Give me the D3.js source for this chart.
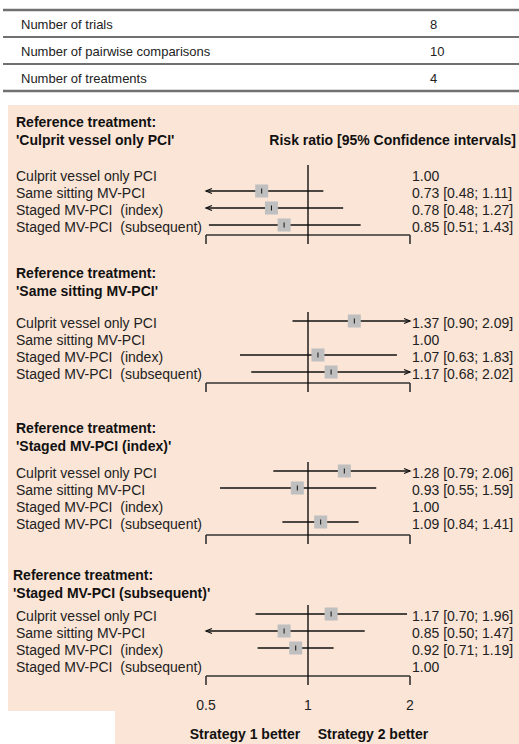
<!DOCTYPE html>
<html>
<head>
<meta charset="utf-8">
<script src="https://cdn.jsdelivr.net/npm/d3@7"></script>
<style>
	body { margin: 0; background: #fff; }
	svg { display: block; font-family: Arial, "Liberation Sans", sans-serif; }
	text { white-space: pre; }
</style>
</head>
<body>
<svg width="519" height="744"></svg>
<script>
// summary table
const tableLabels = ['Number of trials', 'Number of pairwise comparisons', 'Number of treatments'];
const tableValues = [8, 10, 4];

// forest plot data, one row per reference treatment
const treatments = ['Culprit vessel only PCI', 'Same sitting MV-PCI', 'Staged MV-PCI  (index)', 'Staged MV-PCI  (subsequent)'];
const references = ['Culprit vessel only PCI', 'Same sitting MV-PCI', 'Staged MV-PCI (index)', 'Staged MV-PCI (subsequent)'];
const riskRatio = [
	[1.00, 0.73, 0.78, 0.85],
	[1.37, 1.00, 1.07, 1.17],
	[1.28, 0.93, 1.00, 1.09],
	[1.17, 0.85, 0.92, 1.00]
];
const lowerCI = [
	[null, 0.48, 0.48, 0.51],
	[0.90, null, 0.63, 0.68],
	[0.79, 0.55, null, 0.84],
	[0.70, 0.50, 0.71, null]
];
const upperCI = [
	[null, 1.11, 1.27, 1.43],
	[2.09, null, 1.83, 2.02],
	[2.06, 1.59, null, 1.41],
	[1.96, 1.47, 1.19, null]
];
const axisTicks = [0.5, 1, 2];

// layout
const titleY = [122, 273, 428, 575];
const titleX = [16, 16, 16, 13];
const firstRowY = [176, 323, 473, 616];
const axisY = [235, 383, 535, 676];
const rowStep = 17;
const labelX = 16;
const valueX = 412;
const sq = 13;

const svg = d3.select('svg');
const x = d3.scaleLog().domain([0.5, 2]).range([206, 410]);

// table
const tRows = d3.scaleBand().domain(d3.range(tableLabels.length)).range([10, 91]);
svg.selectAll('.tline')
	.data(d3.range(tableLabels.length + 1))
	.enter()
	.append('line')
	.attr('x1', 3).attr('x2', 519)
	.attr('y1', (i) => (i < tableLabels.length ? tRows(i) : 91))
	.attr('y2', (i) => (i < tableLabels.length ? tRows(i) : 91))
	.attr('stroke', '#707070')
	.attr('stroke-width', (i) => (i === 0 || i === tableLabels.length ? 2.5 : 2));

tableLabels.forEach((t, i) => {
	const cy = tRows(i) + tRows.bandwidth() / 2 + 1;
	svg.append('text').attr('x', 21).attr('y', cy).attr('dy', '0.35em')
		.attr('font-size', 13).attr('fill', '#222').text(t);
	svg.append('text').attr('x', 430).attr('y', cy).attr('dy', '0.35em')
		.attr('font-size', 13).attr('fill', '#222').text(tableValues[i]);
});

// peach background
svg.append('path')
	.attr('d', 'M8,105H519V744H115V711H8Z')
	.attr('fill', '#fbe5d6');

svg.append('text')
	.attr('x', 516).attr('y', 140).attr('dy', '0.35em')
	.attr('text-anchor', 'end')
	.attr('font-size', 14).attr('font-weight', 'bold').attr('fill', '#111')
	.text('Risk ratio [95% Confidence intervals]');

references.forEach((ref, p) => {
	const g = svg.append('g');
	const y = (i) => firstRowY[p] + i * rowStep;

	g.append('text').attr('x', titleX[p]).attr('y', titleY[p]).attr('dy', '0.35em')
		.attr('font-size', 14).attr('font-weight', 'bold').attr('fill', '#111')
		.text('Reference treatment:');
	g.append('text').attr('x', titleX[p]).attr('y', titleY[p] + 18).attr('dy', '0.35em')
		.attr('font-size', 14).attr('font-weight', 'bold').attr('fill', '#111')
		.text("'" + ref + "'");

	// axis line with end ticks
	g.append('line')
		.attr('x1', x(0.5)).attr('x2', x(2))
		.attr('y1', axisY[p]).attr('y2', axisY[p])
		.attr('stroke', '#333').attr('stroke-width', 1.6);
	[0.5, 2].forEach((t) => {
		g.append('line')
			.attr('x1', x(t)).attr('x2', x(t))
			.attr('y1', axisY[p]).attr('y2', axisY[p] + 9)
			.attr('stroke', '#333').attr('stroke-width', 1.6);
	});
	// line of no effect
	g.append('line')
		.attr('x1', x(1)).attr('x2', x(1))
		.attr('y1', firstRowY[p] - 11).attr('y2', axisY[p] + 9)
		.attr('stroke', '#111').attr('stroke-width', 1.4);

	treatments.forEach((tr, i) => {
		const cy = y(i);
		g.append('text').attr('x', labelX).attr('y', cy).attr('dy', '0.35em')
			.attr('font-size', 14).attr('fill', '#222').text(tr);

		const est = riskRatio[p][i];
		const lo = lowerCI[p][i];
		const hi = upperCI[p][i];
		let label = est.toFixed(2);
		if (lo !== null) {
			label += ' [' + lo.toFixed(2) + '; ' + hi.toFixed(2) + ']';
			const ly = cy - 2;
			const x1 = x(Math.max(lo, 0.5));
			const x2 = x(Math.min(hi, 2));
			g.append('line').attr('x1', x1).attr('x2', x2).attr('y1', ly).attr('y2', ly)
				.attr('stroke', '#111').attr('stroke-width', 1.4);
			if (lo <= 0.5) {
				g.append('path').attr('d', `M${x1 + 6},${ly - 2.5}L${x1},${ly}L${x1 + 6},${ly + 2.5}`)
					.attr('fill', 'none').attr('stroke', '#111').attr('stroke-width', 1.2);
			}
			if (hi > 2) {
				g.append('path').attr('d', `M${x2 - 6},${ly - 2.5}L${x2},${ly}L${x2 - 6},${ly + 2.5}`)
					.attr('fill', 'none').attr('stroke', '#111').attr('stroke-width', 1.2);
			}
			g.append('rect')
				.attr('x', x(est) - sq / 2).attr('y', ly - sq / 2)
				.attr('width', sq).attr('height', sq)
				.attr('fill', '#bfbfbf');
			g.append('line').attr('x1', x(est)).attr('x2', x(est))
				.attr('y1', ly - 2.5).attr('y2', ly + 2.5)
				.attr('stroke', '#111').attr('stroke-width', 1);
		}
		g.append('text').attr('x', valueX).attr('y', cy).attr('dy', '0.35em')
			.attr('font-size', 14).attr('fill', '#222').text(label);
	});
});

// tick labels under last panel
svg.selectAll('.ticklabel')
	.data(axisTicks)
	.enter()
	.append('text')
	.attr('x', (d) => x(d))
	.attr('y', 705).attr('dy', '0.35em')
	.attr('text-anchor', 'middle')
	.attr('font-size', 14).attr('fill', '#222')
	.text((d) => d);

svg.append('text').attr('x', 245).attr('y', 739).attr('text-anchor', 'middle')
	.attr('font-size', 14).attr('font-weight', 'bold').attr('fill', '#111')
	.text('Strategy 1 better');
svg.append('text').attr('x', 373).attr('y', 739).attr('text-anchor', 'middle')
	.attr('font-size', 14).attr('font-weight', 'bold').attr('fill', '#111')
	.text('Strategy 2 better');
</script>
</body>
</html>
